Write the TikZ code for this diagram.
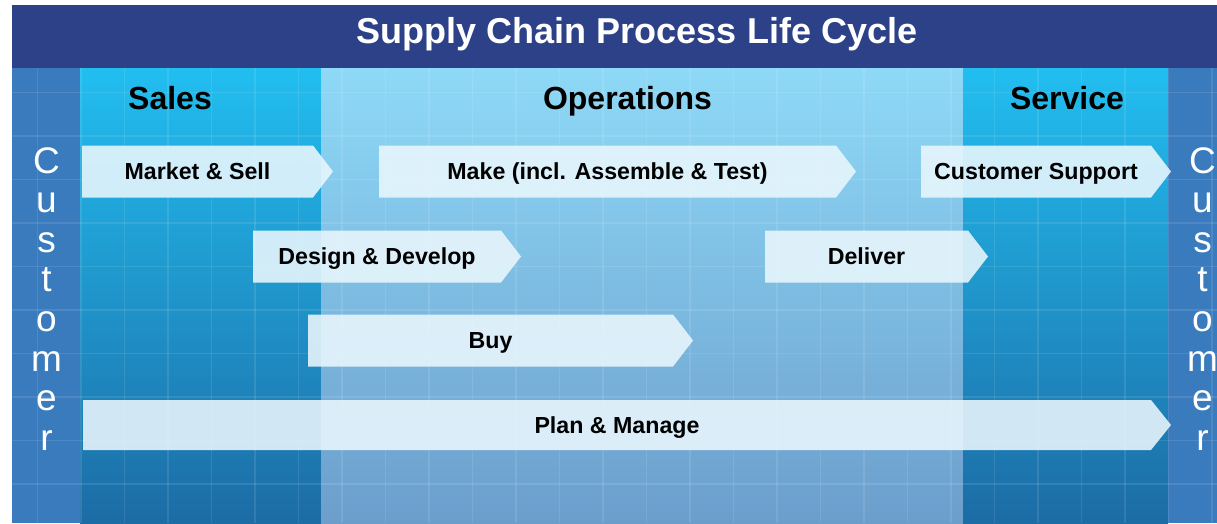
\documentclass[tikz,border=0pt]{standalone}
\usepackage{fontspec}
\setmainfont{Liberation Sans}
\usetikzlibrary{calc}
\pgfdeclarelayer{back}
\pgfdeclarelayer{mid}
\pgfsetlayers{back,mid,main}
\definecolor{titlebg}{RGB}{44,65,135}
\definecolor{custbg}{RGB}{58,123,190}
\definecolor{salestop}{RGB}{34,190,240}
\definecolor{salesbot}{RGB}{28,108,165}
\definecolor{opstop}{RGB}{142,217,247}
\definecolor{opsbot}{RGB}{108,158,204}
\definecolor{arrowfill}{RGB}{234,247,253}
\tikzset{
  stepbox/.style={rectangle, inner sep=0pt, outer sep=0pt, minimum height=52pt,
    font=\fontsize{23.2}{26}\selectfont\bfseries, text=black, text height=16.6pt, text depth=0pt},
  chevfill/.style={fill=arrowfill, fill opacity=0.88},
  phase/.style={font=\fontsize{32}{36}\selectfont\bfseries, text=black, anchor=base, inner sep=0pt},
  custletter/.style={font=\fontsize{37}{40}\selectfont, text=white, anchor=base, inner sep=0pt},
  gridline/.style={white, opacity=0.10, line width=1.2pt}
}
\newcommand\chevron[1]{%
  \begin{pgfonlayer}{mid}
  \fill[chevfill] (#1.north west) -- (#1.north east) -- ($(#1.east)+(20,0)$) -- (#1.south east) -- (#1.south west) -- cycle;
  \end{pgfonlayer}}
\begin{document}
\begin{tikzpicture}[x=1pt,y=-1pt]
\useasboundingbox (0,0) rectangle (1217,523);
\begin{pgfonlayer}{back}
  \fill[white] (0,0) rectangle (1217,523);
  % columns
  \fill[custbg] (12,68) rectangle (80,523);
  \shade[top color=salestop, bottom color=salesbot] (80,68) rectangle (321,523);
  \shade[top color=opstop, bottom color=opsbot] (321,68) rectangle (963,523);
  \shade[top color=salestop, bottom color=salesbot] (963,68) rectangle (1168,523);
  \fill[custbg] (1168,68) rectangle (1217,523);
  % grid
  \foreach \gx in {37.5,81,124.5,...,1217} \draw[gridline] (\gx,68) -- (\gx,523);
  \foreach \gy in {92.5,136,179.5,...,523} \draw[gridline] (12,\gy) -- (1217,\gy);
  % title bar
  \fill[titlebg] (12,5) rectangle (1217,68);
\end{pgfonlayer}
\node[font=\fontsize{36}{40}\selectfont\bfseries, text=white, anchor=base, inner sep=0pt] (title) at (637,43.5) {Supply Chain Process Life Cycle};
\node[phase] (sales) at (170,109) {Sales};
\node[phase] (ops) at (627.5,109) {Operations};
\node[phase] (serv) at (1067,109) {Service};
% customer columns
\foreach \ch [count=\i from 0] in {C,u,s,t,o,m,e,r} {
  \node[custletter] (cl\i) at (46.5,{173+39.6*\i}) {\ch};
  \node[custletter] (cr\i) at (1202.5,{173+39.6*\i}) {\ch};
}
% process steps
\node[stepbox, minimum width=231pt] (ms) at (197.5,171.5) {Market \& Sell};
\node[stepbox, minimum width=457pt] (mk) at (607.5,171.5) {Make (incl. Assemble \& Test)};
\node[stepbox, minimum width=230pt] (cs) at (1036,171.5) {Customer Support};
\node[stepbox, minimum width=248pt] (dd) at (377,256.5) {Design \& Develop};
\node[stepbox, minimum width=203pt] (dl) at (866.5,256.5) {Deliver};
\node[stepbox, minimum width=365pt] (by) at (490.5,340.5) {Buy};
\node[stepbox, minimum width=1068pt, minimum height=50pt] (pm) at (617,425) {Plan \& Manage};
\chevron{ms}\chevron{mk}\chevron{cs}\chevron{dd}\chevron{dl}\chevron{by}\chevron{pm}
\end{tikzpicture}
\end{document}
